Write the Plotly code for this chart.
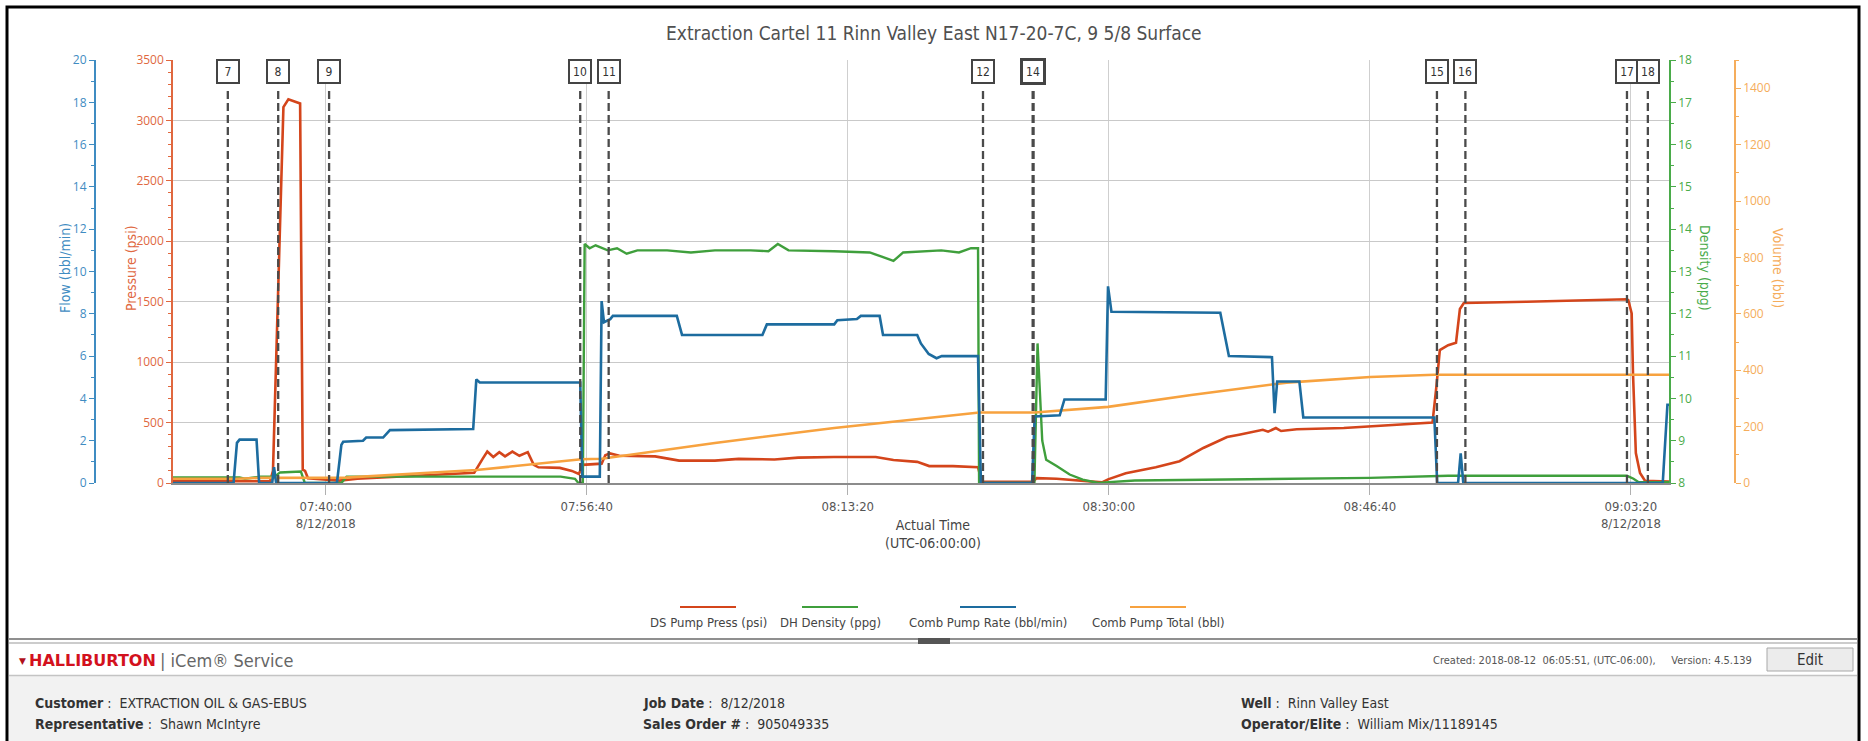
import plotly.graph_objects as go

W, H = 1868, 741
DATE = "2018-08-12"
NARROW = "Liberation Sans Narrow, Arial Narrow, DejaVu Sans Condensed, sans-serif"
SANS = "Open Sans, Noto Sans, sans-serif"

TITLE = "Extraction Cartel 11 Rinn Valley East N17-20-7C, 9 5/8 Surface"

# ---------------- data ----------------
press_time = ["07:30:15", "07:36:27", "07:36:38", "07:37:18", "07:37:37", "07:38:22", "07:38:32", "07:38:41",
              "07:38:52", "07:40:53", "07:42:01", "07:45:50", "07:49:29", "07:50:01", "07:50:19", "07:50:42",
              "07:51:05", "07:51:27", "07:51:55", "07:52:22", "07:52:54", "07:53:17", "07:53:35", "07:54:57",
              "07:55:43", "07:56:10", "07:56:24", "07:57:37", "07:57:51", "07:58:09", "07:58:45", "08:01:02",
              "08:02:34", "08:04:51", "08:06:22", "08:08:39", "08:10:10", "08:12:27", "08:15:07", "08:16:15",
              "08:17:46", "08:18:32", "08:20:03", "08:21:39", "08:21:53", "08:25:10", "08:25:23", "08:26:40",
              "08:29:34", "08:29:57", "08:31:05", "08:33:00", "08:34:31", "08:36:02", "08:37:33", "08:38:19",
              "08:39:00", "08:39:50", "08:40:10", "08:40:40", "08:41:00", "08:42:00", "08:45:00", "08:48:20",
              "08:50:40", "08:50:55", "08:51:08", "08:51:40", "08:52:10", "08:52:25", "08:52:40", "08:56:40",
              "09:03:05", "09:03:10", "09:03:23", "09:03:28", "09:03:39", "09:03:55", "09:04:14", "09:05:46"]
press_psi = [15, 15, 100, 3110, 3175, 3140, 110, 100,
             40, 20, 35, 60, 85, 200, 260, 215,
             255, 220, 260, 225, 255, 150, 130, 125,
             100, 75, 150, 160, 230, 245, 225, 220,
             185, 185, 200, 195, 210, 215, 215, 190,
             175, 140, 140, 130, 10, 10, 40, 35,
             5, 30, 80, 130, 180, 290, 380, 400,
             420, 440, 425, 455, 430, 445, 455, 480,
             500, 800, 1100, 1140, 1160, 1440, 1490, 1500,
             1520, 1514, 1404, 910, 248, 83, 19, 12]

rate_time = ["07:30:15", "07:34:07", "07:34:20", "07:34:30", "07:35:35", "07:35:45", "07:36:35", "07:36:42",
             "07:36:50", "07:40:43", "07:41:00", "07:41:07", "07:42:23", "07:42:35", "07:43:40", "07:44:06",
             "07:49:25", "07:49:37", "07:49:50", "07:56:15", "07:56:23", "07:57:30", "07:57:37", "07:57:46",
             "07:58:10", "07:58:20", "08:02:25", "08:02:45", "08:07:53", "08:08:10", "08:12:28", "08:12:40",
             "08:13:55", "08:14:10", "08:15:22", "08:15:35", "08:17:46", "08:18:00", "08:18:30", "08:19:00",
             "08:19:20", "08:21:39", "08:21:50", "08:25:06", "08:25:16", "08:26:52", "08:27:10", "08:29:48",
             "08:29:57", "08:30:10", "08:37:07", "08:37:40", "08:40:25", "08:40:35", "08:40:45", "08:42:10",
             "08:42:25", "08:50:47", "08:50:58", "08:52:18", "08:52:28", "08:52:38", "09:05:22", "09:05:40",
             "09:05:46"]
rate_bpm = [0, 0, 1.9, 2.05, 2.05, 0, 0, 0.75,
            0, 0, 1.8, 1.95, 2.0, 2.15, 2.15, 2.5,
            2.55, 4.9, 4.75, 4.75, 0.3, 0.3, 8.6, 7.6,
            7.75, 7.9, 7.9, 7.0, 7.0, 7.5, 7.5, 7.7,
            7.75, 7.9, 7.9, 7.0, 7.0, 6.6, 6.1, 5.9,
            6.0, 6.0, 0, 0, 3.15, 3.2, 3.95, 3.95,
            9.3, 8.1, 8.05, 6.0, 5.95, 3.3, 4.8, 4.8,
            3.1, 3.1, 0, 0, 1.4, 0, 0, 3.7,
            3.7]

dens_time = ["07:30:15", "07:34:30", "07:34:50", "07:35:50", "07:36:45", "07:37:05", "07:38:25", "07:38:40",
             "07:41:00", "07:41:20", "07:55:00", "07:55:55", "07:56:08", "07:56:25", "07:56:32", "07:56:51",
             "07:57:14", "07:58:00", "07:58:36", "07:59:13", "07:59:54", "08:01:48", "08:03:19", "08:04:51",
             "08:07:08", "08:08:16", "08:08:52", "08:09:33", "08:12:27", "08:14:44", "08:15:30", "08:16:15",
             "08:16:52", "08:19:18", "08:20:26", "08:21:12", "08:21:39", "08:21:43", "08:25:15", "08:25:27",
             "08:25:45", "08:26:00", "08:26:40", "08:27:30", "08:28:20", "08:29:20", "08:30:00", "08:31:40",
             "08:46:40", "08:51:40", "09:03:05", "09:03:30", "09:03:50", "09:05:46"]
dens_ppg = [8.13, 8.13, 8.1, 8.15, 8.15, 8.25, 8.27, 8.0,
            8.0, 8.15, 8.15, 8.1, 8.0, 8.0, 13.65, 13.55,
            13.62, 13.5, 13.55, 13.42, 13.5, 13.5, 13.45, 13.5,
            13.5, 13.48, 13.65, 13.5, 13.48, 13.45, 13.35, 13.25,
            13.45, 13.5, 13.45, 13.55, 13.55, 8.0, 8.0, 11.3,
            9.0, 8.55, 8.4, 8.2, 8.08, 8.0, 8.02, 8.06,
            8.12, 8.17, 8.17, 8.1, 8.02, 8.02]

vol_time = ["07:30:15", "07:34:20", "07:35:45", "07:40:40", "07:41:16", "07:49:38", "07:56:19", "07:57:37",
            "08:04:51", "08:12:28", "08:21:44", "08:25:16", "08:29:57", "08:35:16", "08:37:07", "08:41:21",
            "08:46:41", "08:50:47", "09:05:46"]
vol_bbl = [15, 15, 18, 18, 19, 46, 84, 86,
           142, 195, 250, 250, 270, 312, 325, 356,
           376, 384, 384]

event_labels = ["7", "8", "9", "10", "11", "12", "14", "15", "16", "17", "18"]
event_times = ["07:33:45", "07:36:58", "07:40:13", "07:56:15", "07:58:04", "08:21:58", "08:25:10",
               "08:50:57", "08:52:46", "09:03:05", "09:04:25"]

x_range = ["07:30:15", "09:05:46"]
x_tick_times = ["07:40:00", "07:56:40", "08:13:20", "08:30:00", "08:46:40", "09:03:20"]
x_tick_text = ["07:40:00<br>8/12/2018", "07:56:40", "08:13:20", "08:30:00", "08:46:40", "09:03:20<br>8/12/2018"]

series_names = ["DS Pump Press (psi)", "DH Density (ppg)", "Comb Pump Rate (bbl/min)", "Comb Pump Total (bbl)"]
series_colors = ["#d4451b", "#3f9f3c", "#1d6c9f", "#f7a23f"]

footer_fields = [
    ("Customer", "EXTRACTION OIL & GAS-EBUS"), ("Representative", "Shawn McIntyre"),
    ("Job Date", "8/12/2018"), ("Sales Order #", "905049335"),
    ("Well", "Rinn Valley East"), ("Operator/Elite", "William Mix/11189145"),
]
created_text = "Created: 2018-08-12  06:05:51, (UTC-06:00),     Version: 4.5.139"


# ---------------- helpers ----------------
def ts(times):
    return [f"{DATE} {t}" for t in times]


def px(x):
    return x / W


def py(y):
    return (H - y) / H


def text_at(x, y, text, size, color, family=NARROW, xanchor="center", **kw):
    return dict(x=px(x), y=py(y), xref="paper", yref="paper", text=text, showarrow=False,
                xanchor=xanchor, yanchor="middle", font=dict(family=family, size=size, color=color), **kw)


PLOT_L, PLOT_R, PLOT_T, PLOT_B = 173, 1669, 60, 483

fig = go.Figure()
# layering: pressure (y), density (y2), volume (y3), flow (y4)
fig.add_trace(go.Scatter(x=ts(press_time), y=press_psi, mode="lines", name=series_names[0],
                         line=dict(color=series_colors[0], width=2.6), yaxis="y"))
fig.add_trace(go.Scatter(x=ts(dens_time), y=dens_ppg, mode="lines", name=series_names[1],
                         line=dict(color=series_colors[1], width=2.4), yaxis="y2"))
fig.add_trace(go.Scatter(x=ts(vol_time), y=vol_bbl, mode="lines", name=series_names[3],
                         line=dict(color=series_colors[3], width=2.6), yaxis="y3"))
fig.add_trace(go.Scatter(x=ts(rate_time), y=rate_bpm, mode="lines", name=series_names[2],
                         line=dict(color=series_colors[2], width=2.6), yaxis="y4"))

tick_font = dict(family=SANS, size=12)
ydom = [py(PLOT_B), py(PLOT_T)]

shapes = []
annotations = []

# event markers
for lab, t in zip(event_labels, event_times):
    heavy = lab == "14"
    shapes.append(dict(type="line", xref="x", yref="paper", x0=f"{DATE} {t}", x1=f"{DATE} {t}",
                       y0=py(PLOT_B), y1=py(87), layer="above",
                       line=dict(color="#4a4a4a", width=3.2 if heavy else 2.3, dash="8px,4px")))
    annotations.append(dict(x=f"{DATE} {t}", xref="x", y=py(71.5), yref="paper", text=lab,
                            showarrow=False, xanchor="center", yanchor="middle",
                            bgcolor="white", bordercolor="#444",
                            borderwidth=3 if heavy else 2, borderpad=1, width=18, height=19,
                            font=dict(family=NARROW, size=12, color="#333")))

# title
annotations.append(text_at(934, 33, TITLE, 19, "#505050"))

# axis titles
axis_titles = [("Flow (bbl/min)", 65, -90, "#3f8cc2"), ("Pressure (psi)", 131, -90, "#e0683f"),
               ("Density (ppg)", 1705, 90, "#4aab4a"), ("Volume (bbl)", 1778, 90, "#f5ad5c")]
for txt, xx, ang, col in axis_titles:
    annotations.append(text_at(xx, 268, txt, 14, col, textangle=ang))

annotations.append(text_at(933, 534, "Actual Time<br>(UTC-06:00:00)", 14, "#444"))

# custom legend
legend_centers = [708, 830, 988, 1158]
for name, col, cx in zip(series_names, series_colors, legend_centers):
    shapes.append(dict(type="line", xref="paper", yref="paper", x0=px(cx - 28), x1=px(cx + 28),
                       y0=py(607), y1=py(607), line=dict(color=col, width=2)))
    annotations.append(text_at(cx, 622, name, 13, "#444"))

# footer panel
shapes.append(dict(type="rect", xref="paper", yref="paper", x0=px(9), x1=px(1857), y0=py(745), y1=py(676),
                   fillcolor="#f2f2f2", line=dict(width=0), layer="below"))
shapes.append(dict(type="line", xref="paper", yref="paper", x0=px(9), x1=px(1857), y0=py(675.5), y1=py(675.5),
                   line=dict(color="#c4c4c4", width=1.5)))
shapes.append(dict(type="line", xref="paper", yref="paper", x0=px(9), x1=px(1857), y0=py(639), y1=py(639),
                   line=dict(color="#6a6a6a", width=1.5)))
shapes.append(dict(type="line", xref="paper", yref="paper", x0=px(9), x1=px(1857), y0=py(643), y1=py(643),
                   line=dict(color="#9a9a9a", width=1.2)))
shapes.append(dict(type="rect", xref="paper", yref="paper", x0=px(918), x1=px(950), y0=py(644), y1=py(638),
                   fillcolor="#555", line=dict(width=0)))
# edit button
shapes.append(dict(type="rect", xref="paper", yref="paper", x0=px(1767), x1=px(1853), y0=py(671), y1=py(648),
                   fillcolor="#ececec", line=dict(color="#a8a8a8", width=1)))
annotations.append(text_at(1810, 660, "Edit", 15, "#333"))
annotations.append(text_at(1754, 660, created_text, 11, "#555", xanchor="right"))
annotations.append(text_at(17, 661, "▼", 9, "#b0101a", family="DejaVu Sans", xanchor="left"))
annotations.append(text_at(27, 660, "<b>HALLIBURTON</b>", 16, "#d3111d", family="DejaVu Sans", xanchor="left"))
annotations.append(text_at(158, 660, "| iCem® Service", 18, "#666", xanchor="left"))

col_x = [33, 641, 1239]
row_y = [703, 724]
for i, (lab, val) in enumerate(footer_fields):
    c, r = divmod(i, 2)
    annotations.append(text_at(col_x[c], row_y[r], f"<b>{lab}</b> :  {val}", 14, "#333", xanchor="left"))

# outer frame
shapes.append(dict(type="rect", xref="paper", yref="paper", x0=px(7), x1=px(1859), y0=py(760), y1=py(7),
                   line=dict(color="black", width=3), fillcolor="rgba(0,0,0,0)"))

fig.update_layout(
    width=W, height=H, margin=dict(l=0, r=0, t=0, b=0, pad=0, autoexpand=False),
    paper_bgcolor="white", plot_bgcolor="white", showlegend=False,
    xaxis=dict(domain=[px(PLOT_L), px(PLOT_R)], type="date", range=ts(x_range),
               tickvals=ts(x_tick_times), ticktext=x_tick_text,
               showgrid=True, gridcolor="#cfcfcf", gridwidth=1, zeroline=False,
               showline=True, linecolor="#8c8c8c", linewidth=2,
               ticks="outside", ticklen=10, tickcolor="#b0b0b0",
               tickfont=dict(family=NARROW, size=13, color="#555")),
    yaxis=dict(domain=ydom, range=[0, 3500], dtick=500, side="left", anchor="x",
               showgrid=True, gridcolor="#c9c9c9", gridwidth=1, zeroline=False,
               showline=True, linecolor="#e0683f", linewidth=1.5,
               ticks="outside", ticklen=5, tickcolor="#e0683f",
               minor=dict(dtick=100, ticks="outside", ticklen=3, tickcolor="#e0683f", showgrid=False),
               tickfont=dict(tick_font, color="#e0683f")),
    yaxis2=dict(range=[8, 18], dtick=1, overlaying="y", side="right", anchor="x",
                showgrid=False, zeroline=False, showline=True, linecolor="#4aab4a", linewidth=1.5,
                ticks="outside", ticklen=5, tickcolor="#4aab4a",
                minor=dict(dtick=0.5, ticks="outside", ticklen=3, tickcolor="#4aab4a", showgrid=False),
                tickfont=dict(tick_font, color="#4aab4a")),
    yaxis3=dict(range=[0, 1500], dtick=200, overlaying="y", side="right", anchor="free",
                position=px(1735), showgrid=False, zeroline=False, showline=True,
                linecolor="#f5ad5c", linewidth=1.5, ticks="outside", ticklen=5, tickcolor="#f5ad5c",
                minor=dict(dtick=100, ticks="outside", ticklen=3, tickcolor="#f5ad5c", showgrid=False),
                tickfont=dict(tick_font, color="#f5ad5c")),
    yaxis4=dict(range=[0, 20], dtick=2, overlaying="y", side="left", anchor="free",
                position=px(95), showgrid=False, zeroline=False, showline=True,
                linecolor="#3f8cc2", linewidth=2, ticks="outside", ticklen=5, tickcolor="#3f8cc2",
                minor=dict(dtick=1, ticks="outside", ticklen=3, tickcolor="#3f8cc2", showgrid=False),
                tickfont=dict(tick_font, color="#3f8cc2")),
    shapes=shapes, annotations=annotations,
)

fig.write_html("out.html", config={"displayModeBar": False},
               post_script="document.body.style.margin='0';")
